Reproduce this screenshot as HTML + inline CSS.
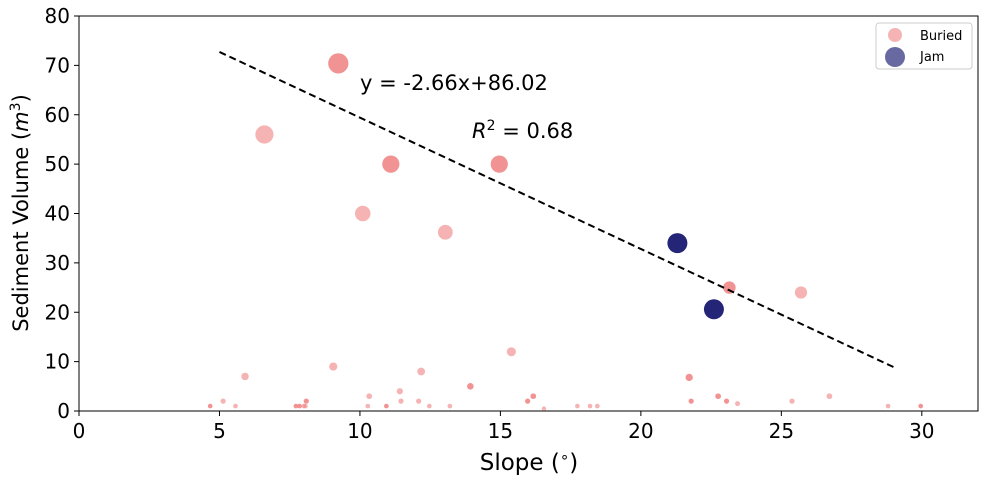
<!DOCTYPE html>
<html><head><meta charset="utf-8"><style>
body{margin:0;background:#fff;font-family:"Liberation Sans","DejaVu Sans",sans-serif}
svg text{font-family:"DejaVu Sans","Liberation Sans",sans-serif}
</style></head><body>
<svg id="chart" width="989" height="484"></svg>
<script>
const buriedX=[4.67,5.13,5.57,5.91,7.72,7.85,8.0,8.06,8.09,9.05,10.28,10.33,10.94,11.42,11.46,12.09,12.18,12.47,13.2,13.93,15.39,15.97,16.17,16.55,17.74,18.19,18.45,21.72,21.79,22.75,23.05,23.44,25.38,26.71,28.8,29.96,9.23,6.6,11.1,14.96,10.1,13.04,23.15,25.7];
const buriedY=[1,2,1,7,1,1,1,1,2,9,1,3,1,4,2,2,8,1,1,5,12,2,3,0.5,1,1,1,6.8,2,3,2,1.5,2,3,1,1,70.4,56,50,50,40,36.2,25,24];
const buriedDark=[1,0,0,0,1,1,0,0,1,0,0,0,1,0,0,0,0,0,0,1,0,1,1,0,0,0,0,1,1,1,1,0,0,0,0,1,1,0,1,1,0,0,1,0];
const jamX=[21.3,22.6];
const jamY=[34,20.6];
const fitSlope=-2.66, fitIntercept=86.02, fitRange=[5,29];
const xTicks=[0,5,10,15,20,25,30];
const yTicks=[0,10,20,30,40,50,60,70,80];
const L=79,R=978,T=16,B=411;
const sx=v=>L+v*(R-L)/32, sy=v=>B-v*(B-T)/80;
const svg=document.getElementById('chart');
const NS='http://www.w3.org/2000/svg';
function mk(tag,attrs,parent){const e=document.createElementNS(NS,tag);for(const k in attrs)e.setAttribute(k,attrs[k]);(parent||svg).appendChild(e);return e;}
const frame=mk('rect',{x:L,y:T,width:R-L,height:B-T,fill:'none',stroke:'#000','stroke-width':1});


xTicks.forEach(t=>{
  const l=mk('line',{x1:sx(t),x2:sx(t),y1:B,y2:B+5,stroke:'#000'});
  
  
  const tx=mk('text',{x:sx(t),y:B+27,'font-size':20,'text-anchor':'middle'});tx.textContent=t;
  
  
});
yTicks.forEach(t=>{
  const l=mk('line',{x1:L-5,x2:L,y1:sy(t),y2:sy(t),stroke:'#000'});
  
  
  const tx=mk('text',{x:L-9,y:sy(t)+7,'font-size':20,'text-anchor':'end'});tx.textContent=t;
  
  
});
buriedX.forEach((x,i)=>{
  const y=buriedY[i];
  const c=mk('circle',{cx:sx(x),cy:sy(y),r:Math.sqrt(4+1.4*y),fill:'#f08080','fill-opacity':buriedDark[i]?0.85:0.6});
  
  
});
jamX.forEach((x,i)=>{
  const c=mk('circle',{cx:sx(x),cy:sy(jamY[i]),r:10,fill:'#191970','fill-opacity':0.95});
  
  
});
const fl=mk('line',{x1:sx(fitRange[0]),y1:sy(fitSlope*fitRange[0]+fitIntercept),x2:sx(fitRange[1]),y2:sy(fitSlope*fitRange[1]+fitIntercept),stroke:'#000','stroke-width':2,'stroke-dasharray':'7,4'});


</script>
<svg width="989" height="484" style="position:absolute;left:0;top:0">
<text x="360" y="90" font-size="21">y = -2.66x+86.02</text>
<text x="472" y="138" font-size="21"><tspan font-style="italic">R</tspan><tspan dy="-8" font-size="14">2</tspan><tspan dy="8"> = 0.68</tspan></text>
<text x="529" y="470" font-size="23" text-anchor="middle">Slope (<tspan dy="-8" font-size="15">∘</tspan><tspan dy="8">)</tspan></text>
<text transform="translate(28,213) rotate(-90)" font-size="21" text-anchor="middle">Sediment Volume (<tspan font-style="italic">m</tspan><tspan dy="-8" font-size="14">3</tspan><tspan dy="8">)</tspan></text>
<g>
<rect x="876" y="23" width="96" height="46" rx="3" fill="#fff" stroke="#ccc"/>
<circle cx="895" cy="35" r="7" fill="#f08080" fill-opacity="0.6"/>
<text x="920" y="40" font-size="13">Buried</text>
<circle cx="895" cy="57" r="10" fill="#191970" fill-opacity="0.65"/>
<text x="920" y="61" font-size="13">Jam</text>
</g>
</svg>
</body></html>
